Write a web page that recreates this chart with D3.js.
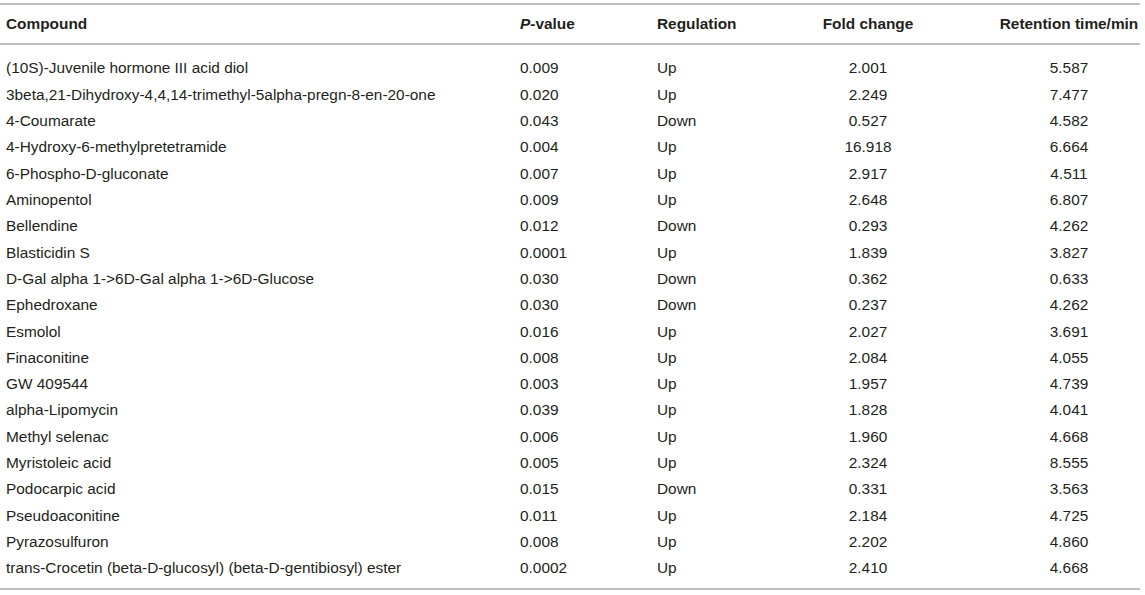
<!DOCTYPE html>
<html>
<head>
<meta charset="utf-8">
<script src="https://cdn.jsdelivr.net/npm/d3@7"></script>
<style>
  body { margin: 0; background: #fff; }
  svg text { font-family: "Liberation Sans", Arial, sans-serif; }
</style>
</head>
<body>
<div id="table"></div>
<script>
const compounds = [
  "(10S)-Juvenile hormone III acid diol",
  "3beta,21-Dihydroxy-4,4,14-trimethyl-5alpha-pregn-8-en-20-one",
  "4-Coumarate",
  "4-Hydroxy-6-methylpretetramide",
  "6-Phospho-D-gluconate",
  "Aminopentol",
  "Bellendine",
  "Blasticidin S",
  "D-Gal alpha 1->6D-Gal alpha 1->6D-Glucose",
  "Ephedroxane",
  "Esmolol",
  "Finaconitine",
  "GW 409544",
  "alpha-Lipomycin",
  "Methyl selenac",
  "Myristoleic acid",
  "Podocarpic acid",
  "Pseudoaconitine",
  "Pyrazosulfuron",
  "trans-Crocetin (beta-D-glucosyl) (beta-D-gentibiosyl) ester"
];
const pValues = [0.009, 0.020, 0.043, 0.004, 0.007, 0.009, 0.012, 0.0001, 0.030, 0.030,
                 0.016, 0.008, 0.003, 0.039, 0.006, 0.005, 0.015, 0.011, 0.008, 0.0002];
const regulation = ["Up", "Up", "Down", "Up", "Up", "Up", "Down", "Up", "Down", "Down",
                    "Up", "Up", "Up", "Up", "Up", "Up", "Down", "Up", "Up", "Up"];
const foldChange = [2.001, 2.249, 0.527, 16.918, 2.917, 2.648, 0.293, 1.839, 0.362, 0.237,
                    2.027, 2.084, 1.957, 1.828, 1.960, 2.324, 0.331, 2.184, 2.202, 2.410];
const retentionTime = [5.587, 7.477, 4.582, 6.664, 4.511, 6.807, 4.262, 3.827, 0.633, 4.262,
                       3.691, 4.055, 4.739, 4.041, 4.668, 8.555, 3.563, 4.725, 4.860, 4.668];

const width = 1145, height = 595;
const fontSize = 15.4;
const textColor = "#231f20";
const ruleColor = "#a7a9ac";

const svg = d3.select("#table")
  .append("svg")
  .attr("width", width)
  .attr("height", height);

// row positions
const y = d3.scalePoint()
  .domain(d3.range(compounds.length))
  .range([68, 568]);

const fmtP = (v) => v < 0.001 ? d3.format(".4f")(v) : d3.format(".3f")(v);
const fmt3 = d3.format(".3f");

// column layout
const columns = [
  { head: "Compound", x: 6, anchor: "start", get: (i) => compounds[i] },
  { head: "P-value", x: 520, anchor: "start", get: (i) => fmtP(pValues[i]) },
  { head: "Regulation", x: 657, anchor: "start", get: (i) => regulation[i] },
  { head: "Fold change", x: 868, anchor: "middle", get: (i) => fmt3(foldChange[i]) },
  { head: "Retention time/min", x: 1069, anchor: "middle", get: (i) => fmt3(retentionTime[i]) }
];

// rules
svg.selectAll(".rule")
  .data([4, 44, 589])
  .enter().append("line")
  .attr("class", "rule")
  .attr("x1", 0)
  .attr("x2", 1140)
  .attr("y1", d => d)
  .attr("y2", d => d)
  .attr("stroke", ruleColor)
  .attr("stroke-width", 1.5);

// header
const head = svg.selectAll(".head")
  .data(columns)
  .enter().append("text")
  .attr("class", "head")
  .attr("x", d => d.x)
  .attr("y", 24)
  .attr("dy", "0.35em")
  .attr("text-anchor", d => d.anchor)
  .attr("font-size", fontSize)
  .attr("font-weight", "bold")
  .attr("fill", textColor);

head.each(function (d) {
  const t = d3.select(this);
  if (d.head === "P-value") {
    t.append("tspan").attr("font-style", "italic").text("P");
    t.append("tspan").text("-value");
  } else {
    t.text(d.head);
  }
});

// body cells
const rows = svg.selectAll(".row")
  .data(d3.range(compounds.length))
  .enter().append("g")
  .attr("class", "row")
  .attr("transform", i => `translate(0,${y(i)})`);

rows.selectAll("text")
  .data(i => columns.map(c => ({ c, i })))
  .enter().append("text")
  .attr("x", d => d.c.x)
  .attr("dy", "0.35em")
  .attr("text-anchor", d => d.c.anchor)
  .attr("font-size", fontSize)
  .attr("fill", textColor)
  .text(d => d.c.get(d.i));
</script>
</body>
</html>
